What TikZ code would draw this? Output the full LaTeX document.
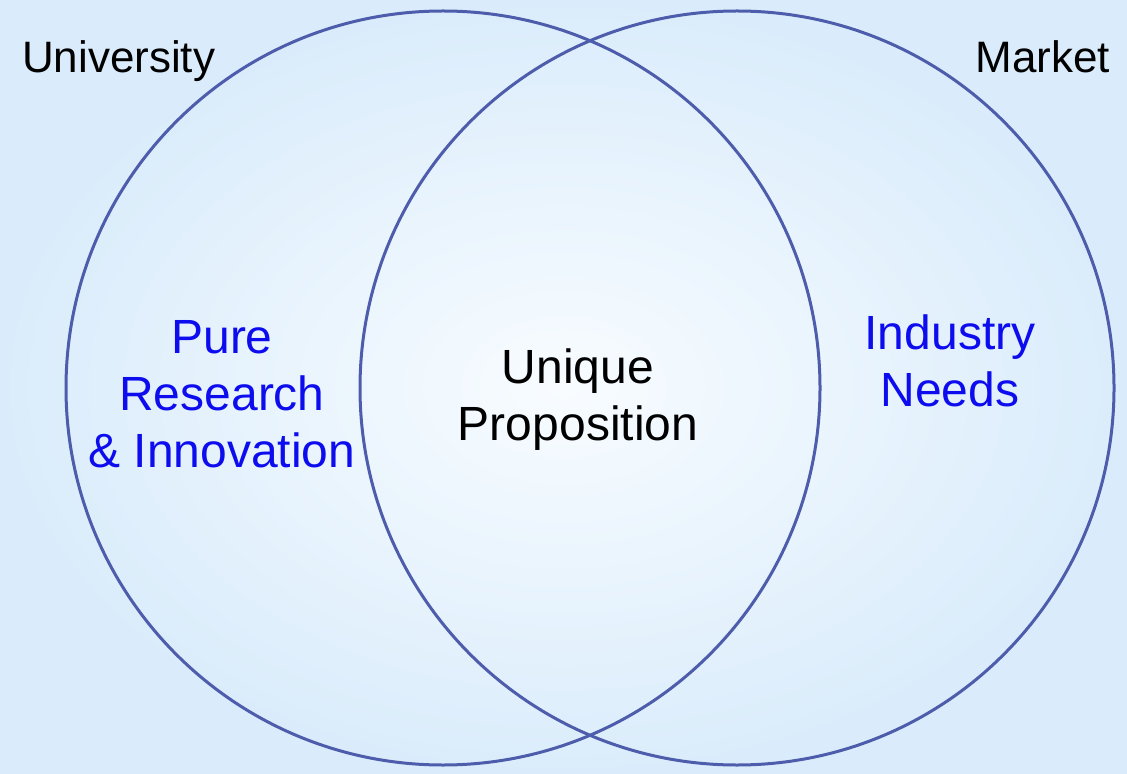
\documentclass[tikz,border=0pt]{standalone}
\usepackage{fontspec}
\setmainfont{Liberation Sans}
\definecolor{ringblue}{RGB}{78,92,172}
\definecolor{bgedge}{RGB}{218,236,251}
\definecolor{bgmid}{RGB}{248,252,255}
\definecolor{textblue}{RGB}{12,12,238}
\begin{document}
\begin{tikzpicture}[x=0.5pt,y=-0.5pt,
    ring/.style={circle,draw=ringblue,line width=1.5pt,minimum size=377pt,inner sep=0pt},
    lbl/.style={align=center,font=\fontsize{24}{28.5}\selectfont}]
\shade[inner color=bgmid,outer color=bgedge] (0,0) rectangle (1127,774);
\useasboundingbox (0,0) rectangle (1127,774);
\node[ring] (unicirc) at (443,388) {};
\node[ring] (mktcirc) at (737,388) {};
\node[lbl,font=\fontsize{22}{28.5}\selectfont,anchor=base west] (uni) at (15,73) {University};
\node[lbl,font=\fontsize{22}{28.5}\selectfont,anchor=base east] (mkt) at (1117,73) {Market};
\node[lbl,text=textblue,anchor=base] (pure) at (222,467) {Pure\\Research\\\& Innovation};
\node[lbl,anchor=base] (uniq) at (578,440) {Unique\\Proposition};
\node[lbl,text=textblue,anchor=base] (ind) at (950,407) {Industry\\Needs};
\end{tikzpicture}
\end{document}
